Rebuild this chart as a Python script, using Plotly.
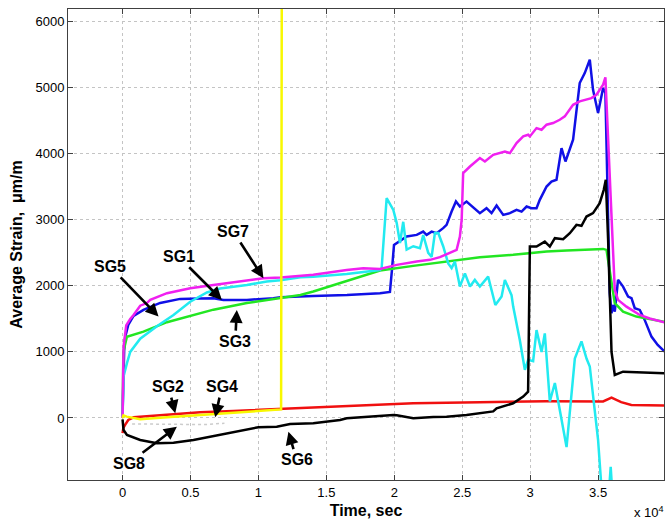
import plotly.graph_objects as go

# ---- gauge readings: time in seconds, average strain in micro-strain ----
sg1_t = [0, 50, 120, 200, 420, 810, 1540, 2770, 4240, 5710, 6690, 7430, 9150, 11100, 11620, 14020,
         16520, 18950, 19680, 19830, 19980, 20910, 21650, 22130, 22380, 22750, 23120, 23600, 23850,
         24220, 24540, 24830, 25320, 26300, 26790, 27160, 27530, 28020, 28510, 29000, 29370, 29740,
         30100, 30470, 30710, 31210, 31570, 31940, 32310, 32600, 33160, 33650, 34020, 34390, 34630,
         35000, 35370, 35540, 35620, 35740, 35860, 35990, 36100, 36230, 36470, 36840, 37210, 37460,
         37700, 38070, 38430, 38930, 39390, 39900]
sg1_e = [50, 580, 1030, 1230, 1410, 1545, 1636, 1742, 1803, 1810, 1813, 1788, 1788, 1813, 1829, 1848,
         1863, 1889, 1909, 2242, 2621, 2747, 2772, 2822, 2772, 2822, 2798, 2874, 2924,
         3125, 3277, 3201, 3277, 3101, 3177, 3101, 3216, 3075, 3101, 3151, 3125, 3201,
         3177, 3177, 3303, 3504, 3580, 3606, 4086, 3883, 4212, 5071, 5222, 5424, 4969,
         4616, 4995, 4919, 4212, 3201, 1889, 1586, 1712, 1610, 2091, 1989, 1838, 1813,
         1662, 1636, 1485, 1232, 1106, 1005]

sg2_t = [0, 60, 200, 420, 810, 3270, 5710, 8160, 11620, 16500, 21400, 26300, 31200, 35370, 35990,
         36700, 37450, 39900]
sg2_e = [-230, -150, -100, -30, 10, 45, 86, 106, 136, 182, 222, 240, 255, 250, 308,
         240, 197, 187]

sg3_t = [0, 60, 320, 1540, 3270, 5710, 6690, 9150, 11620, 13090, 14040, 16500, 18950, 21400, 23850,
         26300, 28750, 29980, 31210, 32680, 35370, 35620, 35990, 36230, 36840, 37820, 39900]
sg3_e = [0, 1000, 1230, 1307, 1450, 1580, 1640, 1740, 1813, 1863, 1914, 2070, 2232, 2303, 2368,
         2435, 2470, 2495, 2520, 2535, 2560, 2545, 2091, 1738, 1610, 1535, 1455]

sg4_t = [0, 70, 300, 1300, 3270, 5710, 8160, 10620, 11500, 11670, 11720]
sg4_e = [0, 40, 20, -20, 10, 45, 80, 106, 121, 130, 6400]

sg5_t = [0, 40, 74, 324, 566, 1300, 2530, 3750, 4980, 6210, 7180, 9150, 10620, 11620, 13090, 14040,
         16500, 18950, 19070, 19440, 19930, 20180, 20420, 20660, 20910, 21400, 21890, 22130, 22500,
         22750, 22990, 23240, 23600, 23970, 24220, 24460, 24830, 25200, 25570, 25930, 26300, 26910,
         27440, 27900, 28140, 28630, 28750, 29240, 29610, 29860, 30220, 30470, 30840, 31080, 31450,
         31820, 32680, 33290, 33780, 34150, 34390, 35000, 35300, 35620, 35860, 35930, 36100]
sg5_e = [0, 400, 630, 830, 1000, 1200, 1390, 1560, 1760, 1900, 1960, 2015, 2065, 2085, 2130, 2140,
         2180, 2240, 2270, 3330, 3150, 2950, 2650, 2970, 2550, 2600, 2570, 2770, 2500,
         2440, 2800, 2800, 2600, 2340, 2270, 2370, 1990, 2190, 1990, 2090, 1990, 2140,
         1710, 1840, 2090, 1860, 1690, 1180, 730, 880, 860, 1330, 1000, 1280, 250,
         530, -440, 900, 1160, 900, 780, -330, -1200, -1300, -940, -740, -1300]

sg6_t = [0, 20, 74, 324, 1300, 2530, 3750, 5220, 7000, 8650, 10000, 11350, 12330, 14040, 16010,
         16500, 17970, 19930, 20180, 21400, 22870, 23850, 25320, 26300, 27280, 27530, 28750, 29490,
         29850, 29980, 30470, 31080, 31450, 31820, 32430, 32920, 33410, 33780, 34150, 34630, 35120,
         35420, 35570, 35740, 35990, 36230, 36840, 39900]
sg6_e = [-20, -100, -182, -258, -333, -384, -374, -333, -260, -200, -140, -132, -90, -81, -30,
         -5, 20, 45, 40, -5, 15, 20, 45, 71, 100, 147, 222, 323,
         398, 2595, 2595, 2671, 2595, 2722, 2707, 2798, 2924, 2909, 3050, 3101, 3252,
         3454, 3606, 2700, 1000, 651, 701, 677]

sg7_t = [0, 20, 74, 270, 566, 810, 1300, 1790, 2040, 3270, 4980, 6690, 8650, 10370, 11620, 13090,
         14040, 16500, 17720, 18950, 20180, 21650, 22630, 23360, 24100, 24590, 24830, 24960, 25070,
         25570, 26300, 26670, 27280, 27770, 28140, 28510, 29000, 29490, 29860, 29980, 30470, 30840,
         31210, 31690, 32180, 32550, 33160, 33650, 34150, 34510, 34880, 35370, 35540, 35860, 36230,
         36470, 37090, 38070, 38800, 39900]
sg7_e = [0, 600, 1080, 1400, 1500, 1560, 1700, 1740, 1790, 1889, 1965, 2015, 2065, 2116, 2126, 2150,
         2167, 2242, 2268, 2257, 2318, 2368, 2394, 2435, 2495, 2545, 2747, 3000, 3707,
         3807, 3935, 3883, 3985, 4010, 4035, 4010, 4162, 4263, 4288, 4263, 4389, 4364,
         4440, 4465, 4515, 4566, 4742, 4793, 4818, 4843, 4893, 5046, 5157, 3600, 1939,
         1788, 1686, 1560, 1507, 1447]

sg8_t = [700, 2500, 4500, 6000, 7500]
sg8_e = [-90, -95, -100, -100, -80]

# x tick labels are shown in units of 10^4 s
x_ticks = [0, 5000, 10000, 15000, 20000, 25000, 30000, 35000]
x_tick_text = ["0", "0.5", "1", "1.5", "2", "2.5", "3", "3.5"]
y_ticks = [0, 1000, 2000, 3000, 4000, 5000, 6000]

# label text, label position (t, strain), arrow tip (t, strain)
labels = ["SG7", "SG1", "SG5", "SG3", "SG2", "SG4", "SG8", "SG6"]
label_pos = [(8160, 2822), (4120, 2444), (-900, 2292), (8290, 1156),
             (3380, 474), (7310, 474), (440, -686), (12820, -636)]
label_tip = [(10370, 2116), (7310, 1788), (2650, 1535), (8410, 1636),
             (3880, 71), (6820, 11), (4000, -132), (12210, -208)]

series = [
    (sg8_t, sg8_e, "#cccccc", 1.5, "dot"),
    (sg1_t, sg1_e, "#1010e6", 2.5, "solid"),
    (sg2_t, sg2_e, "#f01010", 2.5, "solid"),
    (sg3_t, sg3_e, "#22e622", 2.5, "solid"),
    (sg5_t, sg5_e, "#22eaf0", 2.5, "solid"),
    (sg6_t, sg6_e, "#000000", 2.5, "solid"),
    (sg7_t, sg7_e, "#f020f0", 2.5, "solid"),
    (sg4_t, sg4_e, "#f8f800", 2.5, "solid"),
]

fig = go.Figure()
for t, e, color, w, dash in series:
    fig.add_trace(go.Scatter(x=t, y=e, mode="lines",
                             line=dict(color=color, width=w, dash=dash),
                             showlegend=False, hoverinfo="skip"))

font_family = "Liberation Sans, Arial, sans-serif"

for text, (tx, ty), (hx, hy) in zip(labels, label_pos, label_tip):
    fig.add_annotation(x=hx, y=hy, ax=tx, ay=ty, xref="x", yref="y", axref="x", ayref="y",
                       text="<b>" + text + "</b>", showarrow=True,
                       arrowhead=2, arrowsize=1.0, arrowwidth=2.6, arrowcolor="black",
                       standoff=0, startstandoff=1,
                       font=dict(family=font_family, size=16, color="black"))

fig.add_annotation(x=1.0, y=0.0, xref="paper", yref="paper", xanchor="right", yanchor="top",
                   yshift=-22, xshift=2, showarrow=False,
                   text="x 10<sup>4</sup>", font=dict(family=font_family, size=13, color="black"))

axis_common = dict(showline=True, linecolor="#404040", linewidth=1, mirror="ticks",
                   ticks="inside", ticklen=5, tickcolor="#404040",
                   showgrid=True, gridcolor="#c4c4c4", gridwidth=1, griddash="dot",
                   zeroline=False, tickfont=dict(family=font_family, size=13, color="black"))

fig.update_xaxes(range=[-4015, 39853], tickmode="array", tickvals=x_ticks, ticktext=x_tick_text,
                 title=dict(text="<b>Time, sec</b>", standoff=6,
                            font=dict(family=font_family, size=16, color="black")),
                 **axis_common)
fig.update_yaxes(range=[-939, 6192], tickmode="array", tickvals=y_ticks,
                 title=dict(text="<b>Average Strain, &nbsp;μm/m</b>", standoff=8,
                            font=dict(family=font_family, size=16, color="black")),
                 **axis_common)

fig.update_layout(width=665, height=523, margin=dict(l=68, r=1, t=9, b=43),
                  paper_bgcolor="white", plot_bgcolor="white")

fig.write_html("out.html")
